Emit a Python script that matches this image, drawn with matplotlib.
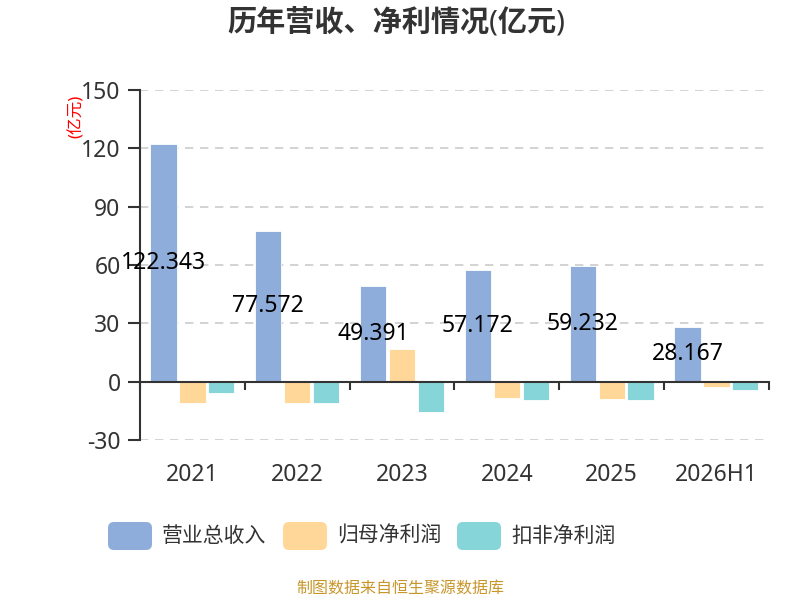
import numpy as np
import matplotlib
matplotlib.use("Agg")
import matplotlib.pyplot as plt
from matplotlib.patches import FancyBboxPatch
from matplotlib.transforms import IdentityTransform, blended_transform_factory

plt.rcParams['font.family'] = ['Noto Sans', 'Noto Sans CJK SC', 'DejaVu Sans']
plt.rcParams['axes.unicode_minus'] = False

years = ['2021', '2022', '2023', '2024', '2025', '2026H1']
revenue = [122.343, 77.572, 49.391, 57.172, 59.232, 28.167]
parent_np = [-11.1, -11.2, 17.0, -8.4, -8.7, -2.7]
deducted_np = [-6.0, -11.2, -15.6, -9.2, -9.3, -4.3]

series_names = ['营业总收入', '归母净利润', '扣非净利润']
colors = ['#8EADDB', '#FFD899', '#86D5D9']
yticks = [-30, 0, 30, 60, 90, 120, 150]

fig = plt.figure(figsize=(8, 6), dpi=100)
ax = fig.add_axes([0.175, 0.2667, 0.786, 0.5833])

x = np.arange(len(years))
w = 0.25
offsets = [-0.275, 0.0, 0.275]
for vals, off, c in zip([revenue, parent_np, deducted_np], offsets, colors):
    ax.bar(x + off, vals, width=w, color=c, edgecolor='white', linewidth=0.6, zorder=3)

# value labels in the middle of the revenue bars
for xi, v in zip(x, revenue):
    ax.text(xi + offsets[0], v / 2, f"{v:.3f}", ha='center', va='center',
            fontsize=16.5, color='black', zorder=5)

ax.set_xlim(-0.5, len(years) - 0.5)
ax.set_ylim(-30, 150)
ax.set_yticks(yticks)
ax.tick_params(axis='y', labelsize=16.5, labelcolor='#333333', length=9, width=1.5,
               color='#333333', pad=5)
ax.yaxis.grid(True, linestyle=(0, (5, 4)), color='#cccccc', linewidth=1.2, zorder=0)

for s in ['top', 'right']:
    ax.spines[s].set_visible(False)
ax.spines['left'].set_color('#333333')
ax.spines['left'].set_linewidth(1.5)
ax.spines['bottom'].set_position(('data', 0))
ax.spines['bottom'].set_color('#333333')
ax.spines['bottom'].set_linewidth(1.5)
ax.spines['bottom'].set_zorder(4)

ax.set_xticks(np.arange(len(years) + 1) - 0.5)
ax.set_xticklabels([])
ax.tick_params(axis='x', length=6, width=1.5, color='#333333', direction='out')

trans = blended_transform_factory(ax.transData, ax.transAxes)
for xi, yr in zip(x, years):
    ax.text(xi, -0.1, yr, transform=trans, ha='center', va='center',
            fontsize=16.5, color='#333333')

fig.text(77 / 800, 1 - 116 / 600, '(亿元)', rotation=90, ha='center', va='center',
         fontsize=12, color='red')

fig.text(0.495, 0.962, '历年营收、净利情况(亿元)', ha='center', va='center',
         fontsize=21, fontweight='bold', color='#333333')

# legend
sw_left = [108, 283, 457]
for left, name, c in zip(sw_left, series_names, colors):
    patch = FancyBboxPatch((left + 4, 50 + 4), 36, 20,
                           boxstyle='round,pad=4,rounding_size=6',
                           transform=IdentityTransform(), facecolor=c,
                           edgecolor='none')
    fig.patches.append(patch)
    fig.text((left + 54) / 800, 64 / 600, name, ha='left', va='center',
             fontsize=15, color='#333333')

fig.text(0.5, 1 - 590 / 600, '制图数据来自恒生聚源数据库', ha='center', va='center',
         fontsize=11.5, color='#C8962A')

fig.savefig('out.png', dpi=100)
